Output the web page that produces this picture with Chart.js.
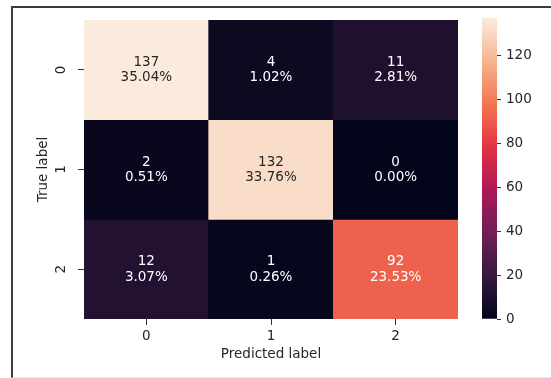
<!DOCTYPE html>
<html>
<head>
<meta charset="utf-8">
<script src="https://cdn.jsdelivr.net/npm/chart.js@4"></script>
<style>
  body { margin: 0; background: #fff; }
  #wrap { position: relative; width: 551px; height: 378px; overflow: hidden; }
  #frame { position: absolute; left: 11px; top: 6px; width: 560px; height: 369px;
           border-left: 2px solid #3c3c3c; border-top: 2px solid #3c3c3c;
           border-bottom: 1px solid #e4e4e4; }
  #cm { position: absolute; left: 0; top: 0; }
  #cb { position: absolute; left: 440px; top: 0; }
</style>
</head>
<body>
<div id="wrap">
  <div id="frame"></div>
  <canvas id="cm" width="551" height="378"></canvas>
  <canvas id="cb" width="111" height="378"></canvas>
</div>
<script>
// confusion matrix values
const predLabels = ['0', '1', '2'];
const trueLabels = ['0', '1', '2'];
const row0 = [137, 4, 11];
const row1 = [2, 132, 0];
const row2 = [12, 1, 92];
const pct0 = ['35.04%', '1.02%', '2.81%'];
const pct1 = ['0.51%', '33.76%', '0.00%'];
const pct2 = ['3.07%', '0.26%', '23.53%'];
const cbTicks = [0, 20, 40, 60, 80, 100, 120];

const counts = [row0, row1, row2];
const pcts = [pct0, pct1, pct2];
const vmax = 137;

// rocket colormap (approx)
const rocket = [
  [0, '#03051a'], [1/7, '#35193e'], [2/7, '#701f57'], [3/7, '#ad1759'],
  [4/7, '#e13342'], [5/7, '#f37651'], [6/7, '#f6b48f'], [1, '#faebdd']
];

function hexRgb(h) {
  return [parseInt(h.substr(1, 2), 16), parseInt(h.substr(3, 2), 16), parseInt(h.substr(5, 2), 16)];
}

function rocketRgb(t) {
  t = Math.max(0, Math.min(1, t));
  for (let k = 1; k < rocket.length; k++) {
    if (t <= rocket[k][0]) {
      const a = hexRgb(rocket[k - 1][1]), b = hexRgb(rocket[k][1]);
      const f = (t - rocket[k - 1][0]) / (rocket[k][0] - rocket[k - 1][0]);
      return a.map((c, i) => Math.round(c + (b[i] - c) * f));
    }
  }
  return hexRgb(rocket[rocket.length - 1][1]);
}

function cellColor(v) {
  const c = rocketRgb(v / vmax);
  return 'rgb(' + c.join(',') + ')';
}

function textColor(v) {
  const c = rocketRgb(v / vmax).map(x => {
    x = x / 255;
    return x <= 0.03928 ? x / 12.92 : Math.pow((x + 0.055) / 1.055, 2.4);
  });
  const lum = 0.2126 * c[0] + 0.7152 * c[1] + 0.0722 * c[2];
  return lum > 0.408 ? '#262626' : '#ffffff';
}

const font = { family: 'DejaVu Sans', size: 13.5 };
Chart.defaults.color = '#262626';

const annotate = {
  id: 'annotate',
  afterDatasetsDraw(chart) {
    const ctx = chart.ctx;
    const xs = chart.scales.x, ys = chart.scales.y;
    ctx.save();
    ctx.font = '13.5px "DejaVu Sans"';
    ctx.textAlign = 'center';
    ctx.textBaseline = 'middle';
    counts.forEach((row, i) => {
      row.forEach((v, j) => {
        const cx = xs.getPixelForValue(j);
        const cy = ys.getPixelForValue(i + 0.5);
        ctx.fillStyle = textColor(v);
        ctx.fillText(String(v), cx, cy - 7.5);
        ctx.fillText(pcts[i][j], cx, cy + 8);
      });
    });
    ctx.restore();
  }
};

new Chart(document.getElementById('cm'), {
  type: 'bar',
  data: {
    labels: predLabels,
    datasets: counts.map((row, i) => ({
      data: row.map(() => [i, i + 1]),
      backgroundColor: row.map(cellColor),
      borderWidth: 0,
      barPercentage: 1,
      categoryPercentage: 1,
      grouped: false
    }))
  },
  options: {
    responsive: false,
    animation: false,
    layout: { padding: { left: 35, top: 18, right: 93, bottom: 15 } },
    plugins: { legend: { display: false }, tooltip: { enabled: false } },
    scales: {
      x: {
        offset: true,
        grid: { offset: false, drawOnChartArea: false, drawTicks: true, tickLength: 6, color: '#333' },
        border: { display: false },
        ticks: { font: font, padding: 3, color: '#262626' },
        title: { display: true, text: 'Predicted label', font: font, color: '#262626', padding: { top: 0, bottom: 0 } },
        afterFit(s) { s.height = 44; }
      },
      y: {
        min: 0,
        max: 3,
        reverse: true,
        afterBuildTicks(s) { s.ticks = trueLabels.map((l, i) => ({ value: i + 0.5 })); },
        grid: { drawOnChartArea: false, drawTicks: true, tickLength: 6, color: '#333' },
        border: { display: false },
        ticks: {
          font: font, color: '#262626', minRotation: 90, maxRotation: 90,
          crossAlign: 'center', padding: 12,
          callback: (v) => trueLabels[Math.floor(v)]
        },
        title: { display: true, text: 'True label', font: font, color: '#262626', padding: { top: 0, bottom: 0 } },
        afterFit(s) { s.width = 49; }
      }
    }
  },
  plugins: [annotate]
});

// colorbar
new Chart(document.getElementById('cb'), {
  type: 'bar',
  data: {
    labels: [''],
    datasets: [{
      data: [[0, vmax]],
      borderWidth: 0,
      barPercentage: 1,
      categoryPercentage: 1,
      backgroundColor(c) {
        const area = c.chart.chartArea;
        if (!area) return '#000';
        const g = c.chart.ctx.createLinearGradient(0, area.bottom, 0, area.top);
        for (let k = 0; k <= 40; k++) g.addColorStop(k / 40, 'rgb(' + rocketRgb(k / 40).join(',') + ')');
        return g;
      }
    }]
  },
  options: {
    responsive: false,
    animation: false,
    layout: { padding: { left: 42, top: 18, right: 0, bottom: 59 } },
    plugins: { legend: { display: false }, tooltip: { enabled: false } },
    scales: {
      x: { display: false },
      y: {
        position: 'right',
        min: 0,
        max: vmax,
        afterBuildTicks(s) { s.ticks = cbTicks.map(v => ({ value: v })); },
        grid: { drawOnChartArea: false, drawTicks: true, tickLength: 4, color: '#333' },
        border: { display: false },
        ticks: { font: font, color: '#262626', padding: 5 },
        afterFit(s) { s.width = 54; }
      }
    }
  }
});
</script>
</body>
</html>
